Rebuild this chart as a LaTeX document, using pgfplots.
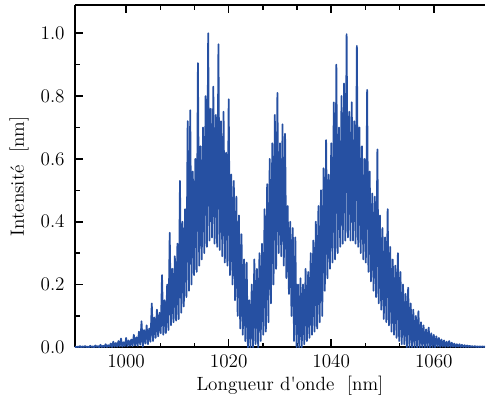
\documentclass[border=0pt]{standalone}
\usepackage{pgfplots}
\pgfplotsset{compat=1.18}
\definecolor{specblue}{RGB}{38,80,162}
\begin{document}
\begin{tikzpicture}
\begin{axis}[
  scale only axis,
  width=308.25pt, height=257.25pt,
  xmin=990, xmax=1070, ymin=0, ymax=1.09,
  axis x line*=box, axis y line*=left,
  tick align=inside,
  xtick={1000,1020,1040,1060}, minor x tick num=2,
  ytick={0,0.2,0.4,0.6,0.8,1.0}, minor y tick num=1,
  major tick length=6pt, minor tick length=3.5pt,
  axis line style={line width=1.4pt, black},
  every tick/.style={line width=1.2pt, black},
  tick label style={font=\fontsize{13.5}{15}\selectfont, text=black},
  xticklabel style={/pgf/number format/1000 sep={}, anchor=base, yshift=-15pt},
  yticklabel style={/pgf/number format/fixed, /pgf/number format/fixed zerofill, /pgf/number format/precision=1, anchor=east, inner sep=0pt, xshift=-7.5pt},
  xlabel={Longueur d\textquotesingle onde~~[nm]},
  ylabel={Intensit\'e~~[nm]},
  every axis x label/.style={at={(axis description cs:0.5,0)}, anchor=base, yshift=-32.25pt, xshift=7.5pt, font=\fontsize{14.4}{16}\selectfont},
  every axis y label/.style={at={(axis description cs:0,0.5)}, rotate=90, anchor=center, yshift=42pt, font=\fontsize{14.4}{16}\selectfont},
  clip=true,
  after end axis/.code={
    \path (axis description cs:0,0) ++(-56.25pt,-39.75pt) coordinate (bbsw);
    \path (axis description cs:0,1) ++(0,3.75pt) coordinate (bbn);
    \path (bbsw) -- (bbn);
  },
]
\addplot[color=specblue, line width=1.3pt, line join=round] coordinates {
(990,0.003)(990.25,0)(990.5,0.002)(990.75,0.001)
(991,0.004)(991.25,0)(991.5,0.003)(991.75,0.001)
(992,0.004)(992.25,0.001)(992.5,0.002)(992.75,0)
(993,0.005)(993.25,0.001)(993.5,0.003)(993.75,0)
(994,0.006)(994.25,0.001)(994.5,0.004)(994.75,0)
(995,0.008)(995.25,0.001)(995.5,0.005)(995.75,0.001)
(996,0.01)(996.25,0.001)(996.5,0.007)(996.75,0.002)
(997,0.012)(997.25,0.001)(997.5,0.018)(997.75,0.002)
(998,0.014)(998.25,0.002)(998.5,0.02)(998.75,0.003)
(999,0.028)(999.25,0.002)(999.5,0.016)(999.75,0.004)
(1000,0.03)(1000.25,0.003)(1000.5,0.022)(1000.75,0.005)
(1001,0.025)(1001.25,0.004)(1001.5,0.04)(1001.75,0.006)
(1002,0.032)(1002.25,0.005)(1002.5,0.05)(1002.75,0.008)
(1003,0.083)(1003.25,0.002)(1003.5,0.055)(1003.75,0.012)
(1004,0.07)(1004.25,0.01)(1004.5,0.06)(1004.75,0.018)
(1005,0.14)(1005.25,0.02)(1005.5,0.095)(1005.75,0.03)
(1006,0.12)(1006.25,0.035)(1006.5,0.11)(1006.75,0.045)
(1007,0.23)(1007.25,0.04)(1007.5,0.15)(1007.75,0.045)
(1008,0.2)(1008.25,0.055)(1008.5,0.365)(1008.75,0.07)
(1009,0.25)(1009.25,0.08)(1009.5,0.29)(1009.75,0.085)
(1010,0.33)(1010.25,0.09)(1010.5,0.53)(1010.75,0.11)
(1011,0.4)(1011.25,0.13)(1011.5,0.44)(1011.75,0.16)
(1012,0.72)(1012.25,0.18)(1012.5,0.755)(1012.75,0.2)
(1013,0.56)(1013.25,0.23)(1013.5,0.6)(1013.75,0.24)
(1014,0.905)(1014.25,0.26)(1014.5,0.64)(1014.75,0.28)
(1015,0.7)(1015.25,0.3)(1015.5,0.8)(1015.75,0.32)
(1016,1.0)(1016.25,0.34)(1016.5,0.76)(1016.75,0.35)
(1017,0.83)(1017.25,0.33)(1017.5,0.74)(1017.75,0.32)
(1018,0.965)(1018.25,0.31)(1018.5,0.72)(1018.75,0.29)
(1019,0.75)(1019.25,0.27)(1019.5,0.62)(1019.75,0.26)
(1020,0.79)(1020.25,0.23)(1020.5,0.55)(1020.75,0.2)
(1021,0.53)(1021.25,0.15)(1021.5,0.48)(1021.75,0.1)
(1022,0.42)(1022.25,0.06)(1022.5,0.36)(1022.75,0.04)
(1023,0.28)(1023.25,0.02)(1023.5,0.27)(1023.75,0)
(1024,0.15)(1024.25,0)(1024.5,0.2)(1024.75,0)
(1025,0.28)(1025.25,0.01)(1025.5,0.25)(1025.75,0)
(1026,0.3)(1026.25,0.02)(1026.5,0.33)(1026.75,0.04)
(1027,0.44)(1027.25,0.05)(1027.5,0.52)(1027.75,0.08)
(1028,0.6)(1028.25,0.14)(1028.5,0.65)(1028.75,0.2)
(1029,0.74)(1029.25,0.25)(1029.5,0.81)(1029.75,0.3)
(1030,0.65)(1030.25,0.29)(1030.5,0.71)(1030.75,0.26)
(1031,0.68)(1031.25,0.22)(1031.5,0.45)(1031.75,0.17)
(1032,0.4)(1032.25,0.1)(1032.5,0.38)(1032.75,0.02)
(1033,0.35)(1033.25,0)(1033.5,0.2)(1033.75,0)
(1034,0.22)(1034.25,0)(1034.5,0.2)(1034.75,0.01)
(1035,0.25)(1035.25,0.02)(1035.5,0.24)(1035.75,0.03)
(1036,0.3)(1036.25,0.04)(1036.5,0.34)(1036.75,0.05)
(1037,0.4)(1037.25,0.06)(1037.5,0.45)(1037.75,0.08)
(1038,0.5)(1038.25,0.1)(1038.5,0.57)(1038.75,0.18)
(1039,0.66)(1039.25,0.22)(1039.5,0.55)(1039.75,0.25)
(1040,0.65)(1040.25,0.27)(1040.5,0.78)(1040.75,0.28)
(1041,0.9)(1041.25,0.3)(1041.5,0.7)(1041.75,0.32)
(1042,0.8)(1042.25,0.33)(1042.5,0.84)(1042.75,0.34)
(1043,0.997)(1043.25,0.35)(1043.5,0.75)(1043.75,0.34)
(1044,0.78)(1044.25,0.34)(1044.5,0.72)(1044.75,0.33)
(1045,0.96)(1045.25,0.32)(1045.5,0.7)(1045.75,0.3)
(1046,0.64)(1046.25,0.28)(1046.5,0.6)(1046.75,0.27)
(1047,0.82)(1047.25,0.24)(1047.5,0.56)(1047.75,0.21)
(1048,0.49)(1048.25,0.18)(1048.5,0.48)(1048.75,0.16)
(1049,0.63)(1049.25,0.14)(1049.5,0.42)(1049.75,0.12)
(1050,0.38)(1050.25,0.09)(1050.5,0.35)(1050.75,0.08)
(1051,0.44)(1051.25,0.07)(1051.5,0.32)(1051.75,0.05)
(1052,0.28)(1052.25,0.04)(1052.5,0.26)(1052.75,0.03)
(1053,0.3)(1053.25,0.02)(1053.5,0.24)(1053.75,0.01)
(1054,0.2)(1054.25,0.01)(1054.5,0.17)(1054.75,0)
(1055,0.19)(1055.25,0)(1055.5,0.14)(1055.75,0)
(1056,0.12)(1056.25,0)(1056.5,0.1)(1056.75,0)
(1057,0.115)(1057.25,0)(1057.5,0.08)(1057.75,0)
(1058,0.07)(1058.25,0)(1058.5,0.057)(1058.75,0)
(1059,0.063)(1059.25,0)(1059.5,0.045)(1059.75,0)
(1060,0.04)(1060.25,0)(1060.5,0.035)(1060.75,0.002)
(1061,0.03)(1061.25,0.001)(1061.5,0.025)(1061.75,0.002)
(1062,0.022)(1062.25,0.001)(1062.5,0.018)(1062.75,0.002)
(1063,0.02)(1063.25,0.001)(1063.5,0.015)(1063.75,0.002)
(1064,0.012)(1064.25,0.001)(1064.5,0.01)(1064.75,0.002)
(1065,0.01)(1065.25,0.001)(1065.5,0.008)(1065.75,0.001)
(1066,0.007)(1066.25,0.001)(1066.5,0.006)(1066.75,0.001)
(1067,0.005)(1067.25,0.001)(1067.5,0.004)(1067.75,0.001)
(1068,0.004)(1068.25,0.001)(1068.5,0.003)(1068.75,0.001)
(1069,0.003)(1069.25,0.001)(1069.5,0.003)(1069.75,0.001)
(1070,0.003)
};
\end{axis}
\end{tikzpicture}
\end{document}
